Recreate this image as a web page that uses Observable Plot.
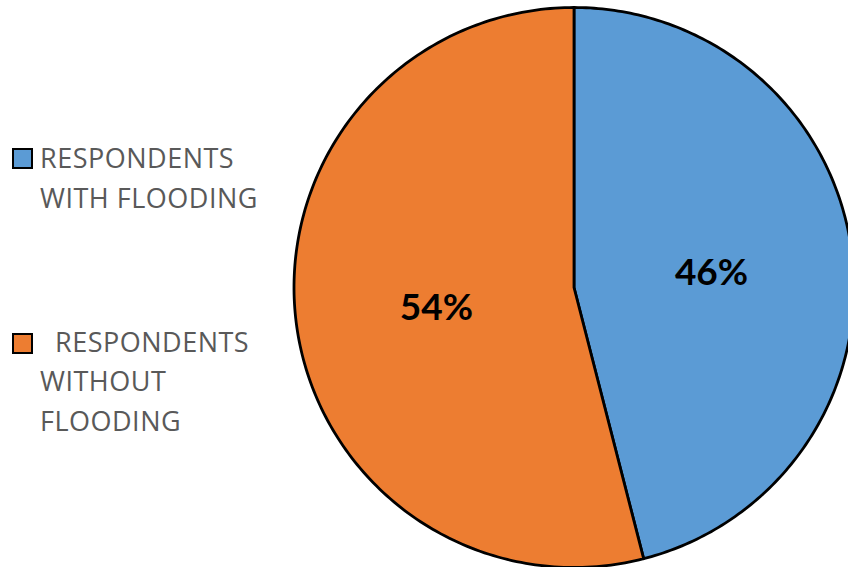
<!DOCTYPE html>
<html>
<head>
<meta charset="utf-8">
<script src="https://cdn.jsdelivr.net/npm/d3@7"></script>
<script src="https://cdn.jsdelivr.net/npm/@observablehq/plot@0.6"></script>
<style>
  html, body { margin: 0; padding: 0; background: #fff; overflow: hidden; }
  #wrap { position: relative; width: 848px; height: 567px; }
  #chart { position: absolute; left: 0; top: 0; }
  .leg { position: absolute; font-family: "Open Sans", Lato, sans-serif; font-size: 27px; color: #595959; line-height: 39.5px; letter-spacing: 0.5px; white-space: nowrap; }
  .sw { position: absolute; width: 17px; height: 17px; border: 2.5px solid #000; }
</style>
</head>
<body>
<div id="wrap">
  <div id="chart"></div>
  <div id="legend"></div>
</div>
<script>
const categories = ["RESPONDENTS WITH FLOODING", "RESPONDENTS WITHOUT FLOODING"];
const legendLines = [["RESPONDENTS", "WITH FLOODING"], ["RESPONDENTS", "WITHOUT", "FLOODING"]];
const legendIndent = [0, 15];
const values = [46, 54];
const labels = ["46%", "54%"];
const colors = ["#5B9BD5", "#ED7D31"];

const W = 848, H = 567;
const cx = 573.5, cy = 287, R = 280;

const pie = d3.pie().sort(null).value(d => d)(values);
const polys = [];
pie.forEach((p, i) => {
  const n = 200;
  polys.push({cat: categories[i], x: 0, y: 0});
  for (let k = 0; k <= n; k++) {
    const a = p.startAngle + (p.endAngle - p.startAngle) * k / n;
    polys.push({cat: categories[i], x: Math.sin(a), y: Math.cos(a)});
  }
  polys.push({cat: categories[i], x: 0, y: 0});
});
const labelData = pie.map((p, i) => {
  const a = (p.startAngle + p.endAngle) / 2;
  return {label: labels[i], x: 0.495 * Math.sin(a), y: 0.495 * Math.cos(a)};
});

const chart = Plot.plot({
  width: W, height: H,
  margin: 0,
  x: {domain: [-cx / R, (W - cx) / R], range: [0, W], axis: null},
  y: {domain: [-(H - cy) / R, cy / R], range: [H, 0], axis: null},
  color: {domain: categories, range: colors},
  marks: [
    Plot.line(polys, {x: "x", y: "y", z: "cat", fill: "cat", stroke: "#000", strokeWidth: 2.8, strokeLinejoin: "round", curve: "linear", clip: true}),
    Plot.text(labelData, {x: "x", y: "y", dy: 3, text: "label", fontSize: 37, fontWeight: "bold", fontFamily: "Lato, 'Open Sans', sans-serif", fill: "#000"})
  ]
});
document.getElementById("chart").appendChild(chart);

const legend = document.getElementById("legend");
const legendTops = [138, 321.5];
const swatchTops = [148, 332.5];
categories.forEach((c, i) => {
  const sw = document.createElement("div");
  sw.className = "sw";
  sw.style.left = "12px";
  sw.style.top = swatchTops[i] + "px";
  sw.style.background = colors[i];
  legend.appendChild(sw);
  const t = document.createElement("div");
  t.className = "leg";
  t.style.left = "40px";
  t.style.top = legendTops[i] + "px";
  t.innerHTML = legendLines[i].map((s, k) => k === 0 ? `<span style="margin-left:${legendIndent[i]}px">${s}</span>` : s).join("<br>");
  legend.appendChild(t);
});
</script>
</body>
</html>
